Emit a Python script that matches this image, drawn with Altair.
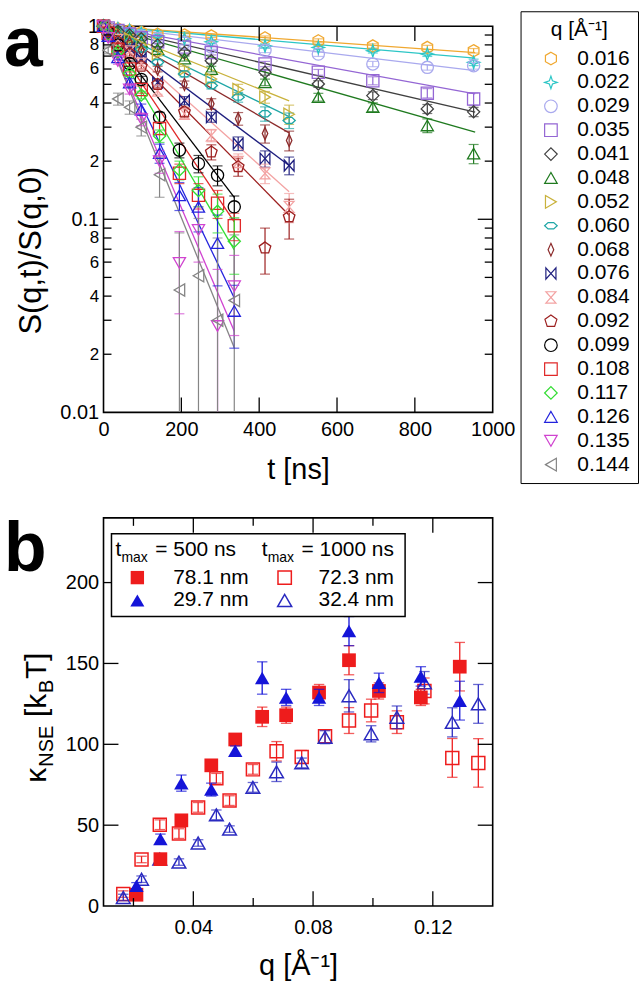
import altair as alt
import pandas as pd

# ---------------- panel a data ----------------
q_labels = ["0.016", "0.022", "0.029", "0.035", "0.041", "0.048", "0.052", "0.060", "0.068",
            "0.076", "0.084", "0.092", "0.099", "0.108", "0.117", "0.126", "0.135", "0.144"]
q_colors = ["#F0A830", "#2CC6C6", "#A9A9EE", "#9466D4", "#404040", "#1F7A1F", "#C9B23C", "#1FA6A6",
            "#8C2B2B", "#1E1E7E", "#F3A3A3", "#9C1F1F", "#000000", "#E02828", "#33DD33", "#2323DD",
            "#D043D0", "#858585"]
HEX = "M0,-1L0.87,-0.5L0.87,0.5L0,1L-0.87,0.5L-0.87,-0.5Z"
STAR4 = "M0,-1L0.25,-0.25L1,0L0.25,0.25L0,1L-0.25,0.25L-1,0L-0.25,-0.25Z"
EYE = "M-1,0L-0.45,-0.5L0.45,-0.5L1,0L0.45,0.5L-0.45,0.5Z"
THIN = "M0,-1L0.45,0L0,1L-0.45,0Z"
BOWTIE = "M-0.8,-0.9L0.8,0.9L0.8,-0.9L-0.8,0.9Z"
HOURGLASS = "M-0.8,-0.9L0.8,-0.9L-0.8,0.9L0.8,0.9Z"
PENT = "M0,-1L0.95,-0.31L0.59,0.81L-0.59,0.81L-0.95,-0.31Z"
q_shapes = [HEX, STAR4, "circle", "square", "diamond", "triangle-up", "triangle-right", EYE, THIN,
            BOWTIE, HOURGLASS, PENT, "circle", "square", "diamond", "triangle-up", "triangle-down",
            "triangle-left"]

t_low = [0, 12, 37, 67, 97, 139, 208, 277, 415, 552, 692, 832, 951]
t_mid = [0, 12, 37, 67, 97, 139, 208, 277, 346, 415, 477]
t_high = [0, 12, 37, 67, 97, 144, 195, 244, 293, 336]

S_016 = [1.0, 0.99, 0.97, 0.95, 0.93, 0.91, 0.90, 0.89, 0.87, 0.84, 0.79, 0.776, 0.746]
S_022 = [1.0, 0.99, 0.97, 0.95, 0.92, 0.89, 0.86, 0.83, 0.79, 0.776, 0.746, 0.717, 0.65]
S_029 = [1.0, 0.98, 0.95, 0.92, 0.89, 0.86, 0.82, 0.78, 0.75, 0.717, 0.637, 0.612, 0.624]
S_035 = [1.0, 0.98, 0.95, 0.91, 0.87, 0.83, 0.78, 0.73, 0.637, 0.577, 0.522, 0.45, 0.42]
S_041 = [1.0, 0.98, 0.94, 0.90, 0.86, 0.80, 0.73, 0.662, 0.577, 0.502, 0.437, 0.373, 0.36]
S_048 = [1.0, 0.97, 0.93, 0.88, 0.83, 0.76, 0.68, 0.60, 0.512, 0.429, 0.381, 0.306, 0.219]
S_052 = [1.0, 0.97, 0.92, 0.86, 0.80, 0.72, 0.60, 0.533, 0.47, 0.429, 0.35]
S_060 = [1.0, 0.96, 0.90, 0.83, 0.76, 0.65, 0.566, 0.493, 0.429, 0.352, 0.325]
S_068 = [1.0, 0.96, 0.89, 0.82, 0.75, 0.60, 0.50, 0.396, 0.332, 0.278, 0.256]
S_076 = [1.0, 0.95, 0.86, 0.77, 0.68, 0.512, 0.412, 0.338, 0.247, 0.206, 0.19]
S_084 = [1.0, 0.95, 0.85, 0.74, 0.64, 0.464, 0.352, 0.272, 0.198, 0.173, 0.116]
S_092 = [1.0, 0.94, 0.83, 0.72, 0.62, 0.50, 0.36, 0.223, 0.187, 0.071, 0.103]
S_099 = [1.0, 0.93, 0.80, 0.64, 0.53, 0.338, 0.228, 0.194, 0.169, 0.116]
S_108 = [1.0, 0.92, 0.76, 0.60, 0.47, 0.295, 0.173, 0.133, 0.121, 0.0925]
S_117 = [1.0, 0.91, 0.74, 0.57, 0.44, 0.27, 0.18, 0.141, 0.11, 0.0769]
S_126 = [1.0, 0.89, 0.69, 0.51, 0.37, 0.22, 0.133, 0.116, 0.0752, 0.0335]
S_135 = [1.0, 0.87, 0.66, 0.47, 0.33, 0.20, 0.0594, 0.088, 0.028, 0.045]
S_144 = [1.0, 0.75, 0.42, 0.38, 0.30, 0.17, 0.043, 0.051, 0.03, 0.038]

E_016 = [0.02, 0.015, 0.015, 0.015, 0.015, 0.015, 0.015, 0.015, 0.02, 0.02, 0.02, 0.02, 0.02]
E_022 = [0.02, 0.015, 0.015, 0.015, 0.015, 0.015, 0.015, 0.015, 0.02, 0.02, 0.02, 0.02, 0.025]
E_029 = [0.02, 0.015, 0.015, 0.015, 0.015, 0.015, 0.015, 0.02, 0.02, 0.02, 0.02, 0.02, 0.025]
E_035 = [0.02, 0.015, 0.015, 0.015, 0.015, 0.015, 0.02, 0.02, 0.02, 0.02, 0.025, 0.025, 0.03]
E_041 = [0.02, 0.015, 0.015, 0.015, 0.015, 0.015, 0.02, 0.02, 0.02, 0.02, 0.02, 0.02, 0.02]
E_048 = [0.02, 0.015, 0.015, 0.015, 0.015, 0.02, 0.02, 0.02, 0.02, 0.02, 0.02, 0.025, 0.025]
E_052 = [0.02, 0.015, 0.015, 0.02, 0.02, 0.02, 0.02, 0.025, 0.03, 0.03, 0.04]
E_060 = [0.02, 0.015, 0.015, 0.02, 0.02, 0.02, 0.02, 0.02, 0.025, 0.03, 0.03]
E_068 = [0.02, 0.015, 0.02, 0.02, 0.02, 0.02, 0.02, 0.025, 0.025, 0.03, 0.03]
E_076 = [0.02, 0.015, 0.02, 0.02, 0.02, 0.02, 0.02, 0.02, 0.02, 0.02, 0.02]
E_084 = [0.02, 0.015, 0.02, 0.02, 0.02, 0.02, 0.02, 0.02, 0.02, 0.02, 0.02]
E_092 = [0.02, 0.02, 0.02, 0.02, 0.02, 0.02, 0.02, 0.02, 0.02, 0.019, 0.024]
E_099 = [0.02, 0.02, 0.02, 0.02, 0.02, 0.02, 0.02, 0.02, 0.02, 0.016]
E_108 = [0.02, 0.02, 0.02, 0.02, 0.02, 0.02, 0.02, 0.02, 0.02, 0.015]
E_117 = [0.02, 0.02, 0.02, 0.02, 0.02, 0.02, 0.02, 0.025, 0.025, 0.025]
E_126 = [0.02, 0.02, 0.02, 0.025, 0.025, 0.025, 0.022, 0.03, 0.03, 0.012]
E_135 = [0.02, 0.02, 0.025, 0.025, 0.025, 0.027, 0.027, 0.028, 0.027, 0.02]
E_144 = [0.02, 0.03, 0.03, 0.03, 0.03, 0.04, 0.042, 0.05, 0.05, 0.045]

fit_tend = [955, 955, 955, 955, 955, 955, 477, 477, 477, 477, 477, 477, 336, 336, 336, 336, 336, 336]
fit_Send = [0.73, 0.684, 0.588, 0.446, 0.359, 0.283, 0.41, 0.34, 0.28, 0.19, 0.139, 0.105,
            0.13, 0.097, 0.0694, 0.0391, 0.0263, 0.0216]

series_t = [t_low] * 6 + [t_mid] * 6 + [t_high] * 6
series_S = [S_016, S_022, S_029, S_035, S_041, S_048, S_052, S_060, S_068, S_076, S_084, S_092,
            S_099, S_108, S_117, S_126, S_135, S_144]
series_E = [E_016, E_022, E_029, E_035, E_041, E_048, E_052, E_060, E_068, E_076, E_084, E_092,
            E_099, E_108, E_117, E_126, E_135, E_144]

# ---------------- panel b data ----------------
qb_fill_sq = [0.021, 0.029, 0.036, 0.046, 0.054, 0.063, 0.071, 0.082, 0.092, 0.102, 0.116, 0.129]
kb_fill_sq = [7, 29, 53, 87, 103, 117, 118, 132, 152, 133, 129, 148]
eb_fill_sq = [2, 2, 2, 3, 3, 6, 5, 5, 9, 5, 5, 15]
qb_fill_tri = [0.021, 0.029, 0.036, 0.046, 0.054, 0.063, 0.071, 0.082, 0.092, 0.102, 0.116, 0.129]
kb_fill_tri = [12.5, 41.5, 76, 72, 96, 141, 129, 129, 170, 138, 142, 127]
eb_fill_tri = [2, 3, 5, 4, 3, 10, 5, 5, 9, 6, 6, 12]
qb_open_sq = [0.0166, 0.0227, 0.0288, 0.0352, 0.0416, 0.0477, 0.0521, 0.0599, 0.0678, 0.0762, 0.084,
              0.092, 0.0994, 0.108, 0.1172, 0.1265, 0.1352]
kb_open_sq = [7.4, 28.8, 50.3, 44.8, 61, 79, 65.2, 84.5, 95.7, 92.2, 105, 114.7, 120.9, 113.7, 133, 91.6, 88.5]
eb_open_sq = [2, 2, 3, 3, 3, 3, 3, 3, 6, 4, 4, 8, 7, 7, 8, 12, 15]
qb_open_tri = [0.0166, 0.0227, 0.0288, 0.0352, 0.0416, 0.0477, 0.0521, 0.0599, 0.0678, 0.0762, 0.084,
               0.092, 0.0994, 0.108, 0.1172, 0.1265, 0.1352]
kb_open_tri = [5.3, 16.6, 29, 27.2, 39, 56.4, 47.6, 73.4, 83, 88.5, 104.4, 130, 106.5, 116.7, 138, 113.6, 125]
eb_open_tri = [2, 2, 2, 2, 2, 3, 2, 3, 6, 3, 4, 10, 5, 7, 7, 9, 12]

FONT = "Liberation Sans"
RED = "#EE1C1C"
BLUE = "#1414D8"
BLUE_OPEN = "#2A2AC0"

# ---------------- build panel a ----------------
rows = []
for i, (lab, ts, ss, es) in enumerate(zip(q_labels, series_t, series_S, series_E)):
    for t, s, e in zip(ts, ss, es):
        rows.append({"q": lab, "qi": i, "t": t, "S": s,
                     "lo": max(s - e, 0.0101), "hi": min(s + e, 1.0)})
df_a = pd.DataFrame(rows)
fit_rows = []
for i, (lab, te, se) in enumerate(zip(q_labels, fit_tend, fit_Send)):
    fit_rows.append({"q": lab, "qi": i, "t": 0, "S": 1.0})
    fit_rows.append({"q": lab, "qi": i, "t": te, "S": se})
df_fit = pd.DataFrame(fit_rows)

WA, HA = 391, 388
WB, HB = 391, 390
one = pd.DataFrame({"d": [0]})

xa = alt.Scale(domain=[0, 1000], nice=False, zero=False)
ya = alt.Scale(type="log", domain=[0.01, 1], nice=False)
cscale = alt.Scale(domain=q_labels, range=q_colors)
sscale = alt.Scale(domain=q_labels, range=q_shapes)
stroke_scale = alt.Scale(domain=list(range(len(q_labels))), range=q_colors)

major_test = "datum.value >= 0.99 || abs(datum.value - 0.1) < 1e-9 || datum.value < 0.0101"
ax_xa = alt.Axis(values=[0, 200, 400, 600, 800, 1000], format="d", title="t [ns]", ticks=False,
                 domain=False, grid=False, labelFontSize=20, labelPadding=7, labelFlush=False,
                 labelOverlap=False, titleFontSize=29, titleFontWeight="normal", titlePadding=16)
ax_ya = alt.Axis(values=[0.01, 0.02, 0.04, 0.06, 0.08, 0.1, 0.2, 0.4, 0.6, 0.8, 1],
                 labelExpr="datum.value >= 0.99 ? '1' : (abs(datum.value - 0.1) < 1e-9 ? '0.1' : "
                           "(datum.value < 0.0101 ? '0.01' : (datum.value > 0.1 ? "
                           "format(datum.value * 10, '.0f') : format(datum.value * 100, '.0f'))))",
                 labelFontSize={"condition": {"test": major_test, "value": 20}, "value": 17},
                 title="S(q,t)/S(q,0)", ticks=False, domain=False, grid=False, labelPadding=5,
                 labelFlush=False, labelOverlap=False, titleFontSize=31, titleFontWeight="normal",
                 titlePadding=12, titleY=225)

leg = alt.Legend(orient="none", legendX=419, legendY=-15, title="q [Å⁻¹]", titleFontSize=21,
                 titleFontWeight="normal", titleAnchor="middle", titlePadding=8, titleFont=FONT,
                 labelFontSize=21, labelFont=FONT, symbolSize=160, symbolStrokeWidth=1.2,
                 strokeColor="black", fillColor="white", padding=8, rowPadding=2, labelOffset=16,
                 symbolOffset=12)

XA = lambda f: alt.X(f, scale=xa, axis=ax_xa)
YA = lambda f: alt.Y(f, scale=ya, axis=ax_ya)
STROKE = alt.Stroke("qi:N", scale=stroke_scale, legend=None)

lines_a = alt.Chart(df_fit).mark_line(strokeWidth=1.3, clip=True).encode(
    x=XA("t:Q"), y=YA("S:Q"), stroke=STROKE, detail="qi:N")
err_a = alt.Chart(df_a).mark_rule(strokeWidth=1.2, clip=True).encode(
    x=XA("t:Q"), y=YA("lo:Q"), y2="hi:Q", stroke=STROKE)
caps_hi = alt.Chart(df_a).mark_point(shape="stroke", size=100, strokeWidth=1.2, clip=True).encode(
    x=XA("t:Q"), y=YA("hi:Q"), stroke=STROKE)
caps_lo = alt.Chart(df_a).transform_filter("datum.lo > 0.0102").mark_point(
    shape="stroke", size=100, strokeWidth=1.2, clip=True).encode(
    x=XA("t:Q"), y=YA("lo:Q"), stroke=STROKE)
pts_a = alt.Chart(df_a).mark_point(filled=False, size=150, strokeWidth=1.3, opacity=1).encode(
    x=XA("t:Q"), y=YA("S:Q"),
    color=alt.Color("q:N", scale=cscale, legend=leg),
    shape=alt.Shape("q:N", scale=sscale, legend=leg),
)


def yticks(vals, length, scale, axis, W):
    d = pd.DataFrame({"v": vals})
    left = alt.Chart(d).mark_rule(color="black", strokeWidth=1.3).encode(
        y=alt.Y("v:Q", scale=scale, axis=axis), x=alt.value(0), x2=alt.value(length))
    right = alt.Chart(d).mark_rule(color="black", strokeWidth=1.3).encode(
        y=alt.Y("v:Q", scale=scale, axis=axis), x=alt.value(W - length), x2=alt.value(W))
    return [left, right]


def xticks(vals, length, scale, axis, H):
    d = pd.DataFrame({"v": vals})
    bottom = alt.Chart(d).mark_rule(color="black", strokeWidth=1.3).encode(
        x=alt.X("v:Q", scale=scale, axis=axis), y=alt.value(H - length), y2=alt.value(H))
    top = alt.Chart(d).mark_rule(color="black", strokeWidth=1.3).encode(
        x=alt.X("v:Q", scale=scale, axis=axis), y=alt.value(0), y2=alt.value(length))
    return [bottom, top]


ya_major = [0.1]
ya_minor = [0.02, 0.03, 0.04, 0.05, 0.06, 0.07, 0.08, 0.09, 0.2, 0.3, 0.4, 0.5, 0.6, 0.7, 0.8, 0.9]
xa_major = [200, 400, 600, 800]

label_a = alt.Chart(one).mark_text(text="a", fontSize=70, fontWeight="bold", align="left",
                                   baseline="alphabetic", font=FONT, color="black").encode(
    x=alt.value(-100), y=alt.value(40))

panel_a = alt.layer(
    lines_a, err_a, caps_hi, caps_lo, pts_a,
    *yticks(ya_major, 15, ya, ax_ya, WA), *yticks(ya_minor, 8, ya, ax_ya, WA),
    *xticks(xa_major, 15, xa, ax_xa, HA),
    label_a,
).properties(width=WA, height=HA)

# ---------------- build panel b ----------------
xb = alt.Scale(domain=[0.01, 0.14], nice=False, zero=False)
yb = alt.Scale(domain=[0, 240], nice=False, zero=False)
ax_xb = alt.Axis(values=[0.04, 0.08, 0.12], format=".2f", title="q [Å⁻¹]", ticks=False, domain=False,
                 grid=False, labelFontSize=20, labelPadding=12, labelFlush=False, labelOverlap=False,
                 titleFontSize=29, titleFontWeight="normal", titlePadding=14)
ax_yb = alt.Axis(values=[0, 50, 100, 150, 200], title="", ticks=False, domain=False, grid=False,
                 labelFontSize=20, labelPadding=5, labelFlush=False, labelOverlap=False)
XB = lambda f: alt.X(f, scale=xb, axis=ax_xb)
YB = lambda f: alt.Y(f, scale=yb, axis=ax_yb)


def b_set(qs, ks, es, color, shape, filled, size):
    d = pd.DataFrame({"q": qs, "k": ks,
                      "lo": [k - e for k, e in zip(ks, es)], "hi": [k + e for k, e in zip(ks, es)]})
    rule = alt.Chart(d).mark_rule(color=color, strokeWidth=1.3).encode(
        x=XB("q:Q"), y=YB("lo:Q"), y2="hi:Q")
    cap1 = alt.Chart(d).mark_point(shape="stroke", size=110, strokeWidth=1.3, color=color).encode(
        x=XB("q:Q"), y=YB("lo:Q"))
    cap2 = alt.Chart(d).mark_point(shape="stroke", size=110, strokeWidth=1.3, color=color).encode(
        x=XB("q:Q"), y=YB("hi:Q"))
    pts = alt.Chart(d).mark_point(shape=shape, filled=filled, size=size, color=color,
                                  strokeWidth=1.5, opacity=1).encode(
        x=XB("q:Q"), y=YB("k:Q"))
    return [rule, cap1, cap2, pts]


def leg_mark(x, y, color, shape, filled, size):
    return alt.Chart(one).mark_point(shape=shape, filled=filled, size=size, color=color,
                                     strokeWidth=1.5, opacity=1).encode(
        x=alt.value(x), y=alt.value(y))


def txt(s, x, y, size=21, align="left", baseline="middle", angle=0, weight="normal"):
    return alt.Chart(one).mark_text(text=s, fontSize=size, align=align, baseline=baseline,
                                    angle=angle, font=FONT, fontWeight=weight, color="black").encode(
        x=alt.value(x), y=alt.value(y))


box_b = alt.Chart(one).mark_rect(fill="white", stroke="black", strokeWidth=1.5).encode(
    x=alt.value(8), x2=alt.value(303), y=alt.value(16), y2=alt.value(99))

legend_b = [
    box_b,
    txt("t", 12, 32), txt("max", 18, 40, size=14), txt("= 500 ns", 52, 32),
    txt("t", 159, 32), txt("max", 165, 40, size=14), txt("= 1000 ns", 199, 32),
    leg_mark(34, 60, RED, "square", True, 180), txt("78.1 nm", 70, 60),
    leg_mark(182, 60, RED, "square", False, 180), txt("72.3 nm", 216, 60),
    leg_mark(34, 83, BLUE, "triangle-up", True, 200), txt("29.7 nm", 70, 83),
    leg_mark(182, 83, BLUE_OPEN, "triangle-up", False, 200), txt("32.4 nm", 216, 83),
]

ytitle_b = [
    txt("κ", -58, 266, size=30, baseline="alphabetic", angle=270),
    txt("NSE", -51, 250, size=20, baseline="alphabetic", angle=270),
    txt("[k", -58, 200, size=30, baseline="alphabetic", angle=270),
    txt("B", -51, 176, size=20, baseline="alphabetic", angle=270),
    txt("T]", -58, 162, size=30, baseline="alphabetic", angle=270),
]

label_b = alt.Chart(one).mark_text(text="b", fontSize=70, fontWeight="bold", align="left",
                                   baseline="alphabetic", font=FONT, color="black").encode(
    x=alt.value(-100), y=alt.value(53))

panel_b = alt.layer(
    *b_set(qb_open_sq, kb_open_sq, eb_open_sq, RED, "square", False, 170),
    *b_set(qb_open_tri, kb_open_tri, eb_open_tri, BLUE_OPEN, "triangle-up", False, 190),
    *b_set(qb_fill_sq, kb_fill_sq, eb_fill_sq, RED, "square", True, 190),
    *b_set(qb_fill_tri, kb_fill_tri, eb_fill_tri, BLUE, "triangle-up", True, 210),
    *yticks([50, 100, 150, 200], 15, yb, ax_yb, WB),
    *xticks([0.04, 0.08, 0.12], 15, xb, ax_xb, HB), *xticks([0.02, 0.06, 0.10], 8, xb, ax_xb, HB),
    *legend_b, *ytitle_b, label_b,
).properties(width=WB, height=HB)

chart = alt.vconcat(panel_a, panel_b, spacing=29).resolve_scale(
    color="independent", shape="independent", stroke="independent"
).configure(font=FONT).configure_view(stroke="black", strokeWidth=1.6).configure_axis(
    labelFont=FONT, titleFont=FONT, labelColor="black", titleColor="black"
).properties(padding={"left": 3, "top": 7, "right": 0, "bottom": 0}, background="white")

chart.save("out.html", embed_options={"renderer": "svg", "actions": False})
